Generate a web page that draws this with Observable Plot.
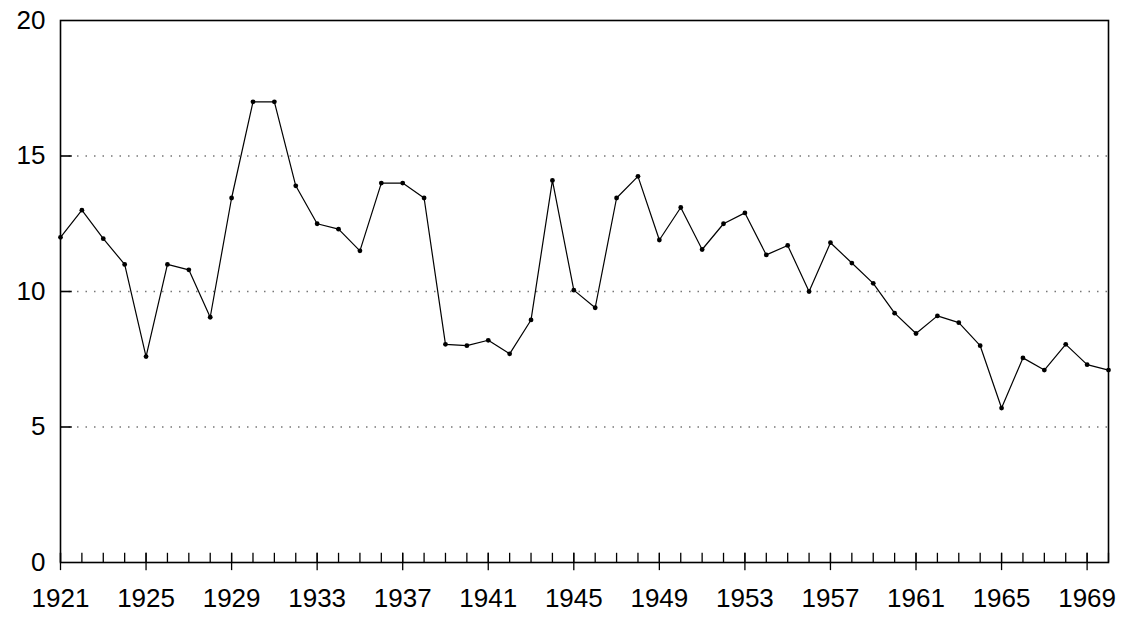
<!DOCTYPE html>
<html><head><meta charset="utf-8">
<script src="https://cdn.jsdelivr.net/npm/d3@7"></script>
<script src="https://cdn.jsdelivr.net/npm/@observablehq/plot@0.6"></script>
<style>body{margin:0;background:#fff} svg{display:block}</style>
</head><body><div id="chart"></div>
<script>
const years = [1921,1922,1923,1924,1925,1926,1927,1928,1929,1930,
  1931,1932,1933,1934,1935,1936,1937,1938,1939,1940,
  1941,1942,1943,1944,1945,1946,1947,1948,1949,1950,
  1951,1952,1953,1954,1955,1956,1957,1958,1959,1960,
  1961,1962,1963,1964,1965,1966,1967,1968,1969,1970];
const values = [12.0,13.0,11.95,11.0,7.6,11.0,10.8,9.05,13.45,17.0,
  17.0,13.9,12.5,12.3,11.5,14.0,14.0,13.45,8.05,8.0,
  8.2,7.7,8.95,14.1,10.05,9.4,13.45,14.25,11.9,13.1,
  11.55,12.5,12.9,11.35,11.7,10.0,11.8,11.05,10.3,9.2,
  8.45,9.1,8.85,8.0,5.7,7.55,7.1,8.05,7.3,7.1];
const xLabelTicks = [1921,1925,1929,1933,1937,1941,1945,1949,1953,1957,1961,1965,1969];
const yTickValues = [0,5,10,15,20];
const gridValues = [5,10,15];

const data = years.map((year, i) => ({year, value: values[i]}));

// tick lengths expressed in data units (years / y units)
const yTickLen = 0.55;
const xTickUp = 0.34;
const xTickDown = 0.3;

const chart = Plot.plot({
  width: 1125,
  height: 618,
  marginLeft: 60,
  marginRight: 17,
  marginTop: 20,
  marginBottom: 56,
  style: {fontFamily: "'Liberation Sans', Arial, sans-serif", fontSize: "26px", color: "#000", background: "#fff"},
  x: {domain: [1921, 1970]},
  y: {domain: [0, 20]},
  marks: [
    Plot.ruleY(gridValues, {stroke: "#777", strokeWidth: 1.3, strokeDasharray: "1.5,7"}),
    Plot.axisY(yTickValues, {tickSize: 0, tickPadding: 15, fontSize: 26, label: null}),
    Plot.axisX(xLabelTicks, {tickSize: 0, tickPadding: 26, tickFormat: d => String(d), fontSize: 26, label: null}),
    Plot.ruleY(gridValues, {x1: years[0], x2: years[0] + yTickLen, stroke: "#000", strokeWidth: 1.6}),
    Plot.ruleX(years, {y1: 0, y2: xTickUp, stroke: "#000", strokeWidth: 1.3}),
    Plot.ruleX(xLabelTicks, {y1: -xTickDown, y2: xTickUp, stroke: "#000", strokeWidth: 1.3}),
    Plot.frame({stroke: "#000", strokeWidth: 1.6}),
    Plot.line(data, {x: "year", y: "value", stroke: "#000", strokeWidth: 1.2}),
    Plot.dot(data, {x: "year", y: "value", r: 2.4, fill: "#000"})
  ]
});
document.getElementById("chart").append(chart);
</script>
</body></html>
